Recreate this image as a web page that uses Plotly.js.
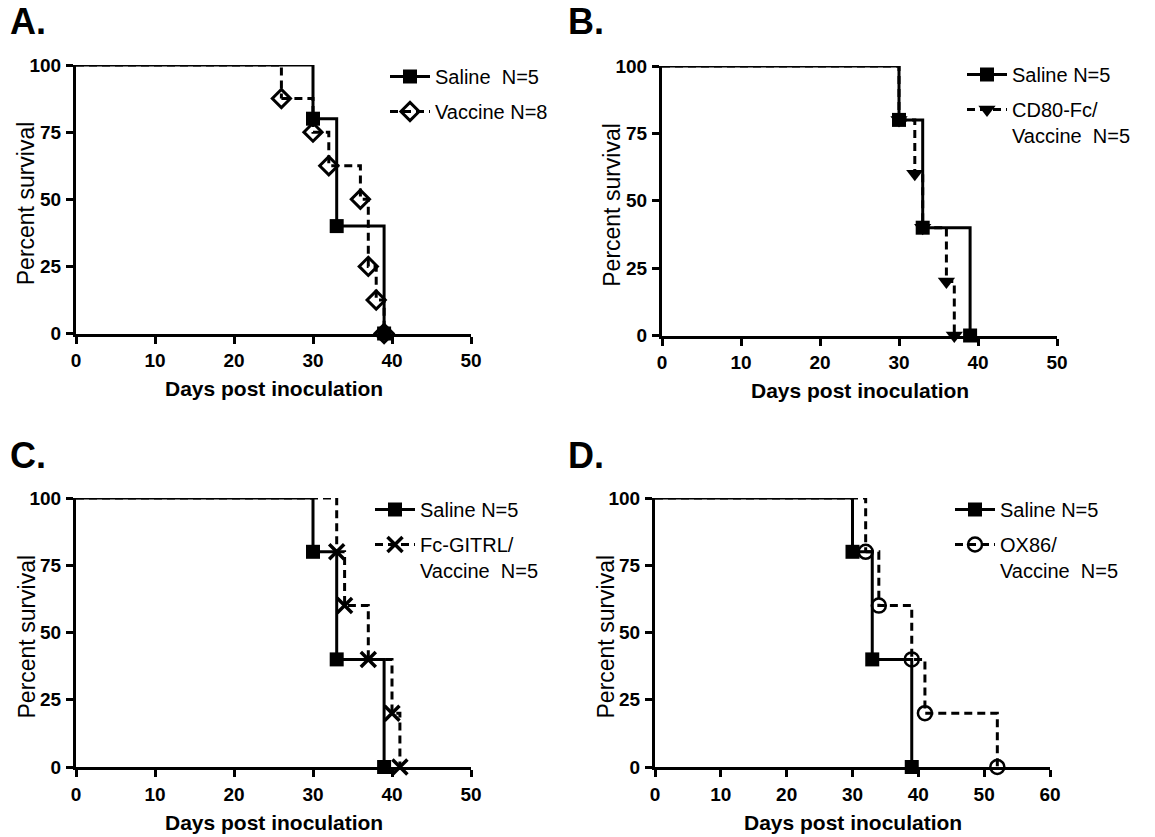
<!DOCTYPE html>
<html>
<head>
<meta charset="utf-8">
<script src="https://cdn.plot.ly/plotly-3.0.1.min.js"></script>
<style>
  html, body { margin: 0; padding: 0; background: #fff; }
  #chart { width: 1155px; height: 837px; }
</style>
</head>
<body>
<div id="chart"></div>
<script>
// ---------------- data (days, percent survival at each death event) ----------------
const salineDays     = [30, 33, 39];
const salineSurv     = [80, 40, 0];

const vaccineDays    = [26, 30, 32, 36, 37, 38, 39];
const vaccineSurv    = [87.5, 75, 62.5, 50, 25, 12.5, 0];

const cd80Days       = [30, 32, 33, 36, 37];
const cd80Surv       = [80, 60, 40, 20, 0];

const gitrlDays      = [33, 34, 37, 40, 41];
const gitrlSurv      = [80, 60, 40, 20, 0];

const ox86Days       = [32, 34, 39, 41, 52];
const ox86Surv       = [80, 60, 40, 20, 0];

const startDay = 0;
const startSurv = 100;

const panelLabels = ["A.", "B.", "C.", "D."];
const xTitle = "Days post inoculation";
const yTitle = "Percent survival";
const yTicks = [0, 25, 50, 75, 100];

const legendNames = {
  saline: "Saline\u00a0 N=5",
  salineB: "Saline N=5",
  vaccine: "Vaccine N=8",
  cd80: "CD80-Fc/<br>Vaccine\u00a0 N=5",
  gitrl: "Fc-GITRL/<br>Vaccine\u00a0 N=5",
  ox86: "OX86/<br>Vaccine\u00a0 N=5"
};

// ---------------- styling ----------------
const FONT = "Liberation Sans, Arial, Helvetica, sans-serif";
const W = 1155, H = 837;
const LW = 3;

function series(days, surv, name, sub, legendId, dashed, marker, grp) {
  const dash = dashed ? "8px,5px" : "solid";
  const xs = sub === 1 ? "x" : "x" + sub;
  const ys = sub === 1 ? "y" : "y" + sub;
  const lead = {
    x: [startDay, days[0]], y: [startSurv, surv[0]],
    xaxis: xs, yaxis: ys, type: "scatter", mode: "lines",
    line: {shape: "hv", color: "#000", width: LW, dash: dash},
    showlegend: false, hoverinfo: "skip", legendgroup: grp, legend: legendId
  };
  const main = {
    x: days, y: surv, name: name,
    xaxis: xs, yaxis: ys, type: "scatter", mode: "lines+markers",
    line: {shape: "hv", color: "#000", width: LW, dash: dash},
    marker: marker, cliponaxis: false,
    legendgroup: grp, legend: legendId
  };
  return [lead, main];
}

const sq = {symbol: "square", size: 14, color: "#000"};
const dia = {symbol: "diamond-open", size: 14, color: "#000", line: {width: 3, color: "#000"}};
const tri = {symbol: "triangle-down", size: 15, color: "#000"};
const xm = {symbol: "x-thin-open", size: 15, color: "#000", line: {width: 3.5, color: "#000"}};
const circ = {symbol: "circle-open", size: 14, color: "#000", line: {width: 2.5, color: "#000"}};

let data = [];
data = data.concat(series(salineDays, salineSurv, legendNames.saline, 1, "legend", false, sq, "a1"));
data = data.concat(series(vaccineDays, vaccineSurv, legendNames.vaccine, 1, "legend", true, dia, "a2"));
data = data.concat(series(salineDays, salineSurv, legendNames.salineB, 2, "legend2", false, sq, "b1"));
data = data.concat(series(cd80Days, cd80Surv, legendNames.cd80, 2, "legend2", true, tri, "b2"));
data = data.concat(series(salineDays, salineSurv, legendNames.salineB, 3, "legend3", false, sq, "c1"));
data = data.concat(series(gitrlDays, gitrlSurv, legendNames.gitrl, 3, "legend3", true, xm, "c2"));
data = data.concat(series(salineDays, salineSurv, legendNames.salineB, 4, "legend4", false, sq, "d1"));
data = data.concat(series(ox86Days, ox86Surv, legendNames.ox86, 4, "legend4", true, circ, "d2"));

// pixel geometry of each plot frame: [x0, x1, yTop, yBottom]
const frames = [
  [76, 471, 65, 333.5],
  [662, 1057, 66, 335.5],
  [76, 471, 498, 767],
  [655, 1050, 498, 767]
];
const xMax = [50, 50, 50, 60];
// panel-letter positions and legend left/top edges (px)
const labelPos = [[8, 22], [566, 22], [8, 455], [566, 455]];
const legendLeft = [385, 962, 370, 950];
const legendTop = [57, 55, 490, 490];

function xaxis(i) {
  const f = frames[i];
  return {
    domain: [f[0] / W, f[1] / W], range: [0, xMax[i]], dtick: 10, tick0: 0,
    anchor: i === 0 ? "y" : "y" + (i + 1),
    showline: true, linewidth: LW, linecolor: "#000", mirror: false,
    ticks: "outside", ticklen: 7, tickwidth: LW, tickcolor: "#000",
    showgrid: false, zeroline: false, fixedrange: true,
    tickfont: {family: FONT, size: 19, color: "#000", weight: "bold"},
    ticklabelstandoff: 1
  };
}
function yaxis(i) {
  const f = frames[i];
  return {
    domain: [1 - f[3] / H, 1 - f[2] / H], range: [0, 100], tickvals: yTicks,
    anchor: i === 0 ? "x" : "x" + (i + 1),
    showline: true, linewidth: LW, linecolor: "#000",
    ticks: "outside", ticklen: 7, tickwidth: LW, tickcolor: "#000",
    showgrid: false, zeroline: false, fixedrange: true,
    tickfont: {family: FONT, size: 19, color: "#000", weight: "bold"},
    ticklabelstandoff: 1
  };
}

const annotations = [];
frames.forEach((f, i) => {
  annotations.push({
    text: xTitle, xref: "paper", yref: "paper",
    x: (f[0] + f[1]) / 2 / W, y: 1 - (f[3] + 55) / H,
    xanchor: "center", yanchor: "middle", showarrow: false,
    font: {family: FONT, size: 21, color: "#000", weight: "bold"}
  });
  annotations.push({
    text: yTitle, xref: "paper", yref: "paper",
    x: (f[0] - 50) / W, y: 1 - ((f[2] + f[3]) / 2 + 4) / H,
    xanchor: "center", yanchor: "middle", showarrow: false, textangle: -90,
    font: {family: FONT, size: 23, color: "#000"}
  });
  annotations.push({
    text: "<b>" + panelLabels[i] + "</b>", xref: "paper", yref: "paper",
    x: labelPos[i][0] / W, y: 1 - labelPos[i][1] / H,
    xanchor: "left", yanchor: "middle", showarrow: false,
    font: {family: FONT, size: 36, color: "#000"}
  });
});

function legend(i) {
  return {
    x: legendLeft[i] / W, y: 1 - legendTop[i] / H, xanchor: "left", yanchor: "top",
    bgcolor: "rgba(0,0,0,0)", borderwidth: 0,
    font: {family: FONT, size: 20, color: "#000"},
    valign: "top", tracegroupgap: 6, itemwidth: 40,
    itemclick: false, itemdoubleclick: false
  };
}

const layout = {
  width: W, height: H,
  margin: {l: 0, r: 0, t: 0, b: 0},
  paper_bgcolor: "#fff", plot_bgcolor: "#fff",
  showlegend: true,
  xaxis: xaxis(0), yaxis: yaxis(0),
  xaxis2: xaxis(1), yaxis2: yaxis(1),
  xaxis3: xaxis(2), yaxis3: yaxis(2),
  xaxis4: xaxis(3), yaxis4: yaxis(3),
  legend: legend(0), legend2: legend(1), legend3: legend(2), legend4: legend(3),
  annotations: annotations
};

Plotly.newPlot("chart", data, layout, {displayModeBar: false, staticPlot: true});
</script>
</body>
</html>
